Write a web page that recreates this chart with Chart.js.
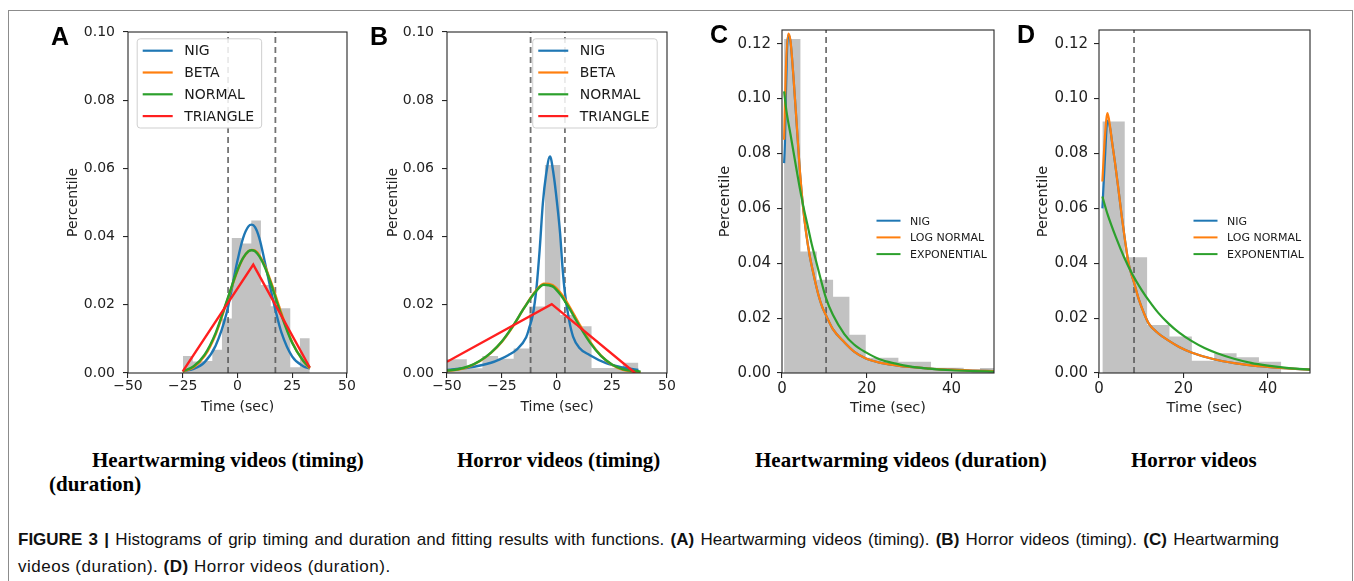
<!DOCTYPE html>
<html>
<head>
<meta charset="utf-8">
<title>Figure 3 - grip timing and duration histograms</title>
<script src="https://cdn.jsdelivr.net/npm/chart.js@4.4.1/dist/chart.umd.min.js"></script>
<style>
  html, body { margin: 0; padding: 0; background: #fff; }
  body { width: 1354px; height: 581px; position: relative; overflow: hidden; }
  .frame { position: absolute; left: 8px; top: 10px; width: 1343px; height: 640px; border: 1px solid #8c8c8c; }
  .panel { position: absolute; }
  .panel canvas { display: block; }
  .letter { position: absolute; font: bold 25px "Liberation Sans", Arial, sans-serif; line-height: 25px; color: #000; }
  .sub { position: absolute; font: bold 21px "Liberation Serif", "Times New Roman", serif; white-space: nowrap; line-height: 24px; color: #000; }
  .caption { position: absolute; left: 18px; top: 526px; font: 17px "Liberation Sans", Arial, sans-serif; line-height: 27px; color: #111; }
  .caption .l1 { width: 1261px; white-space: nowrap; text-align: justify; text-align-last: justify; }
  .caption .l2 { white-space: nowrap; letter-spacing: 0.5px; }
  .caption b { font-weight: bold; }
</style>
</head>
<body>
<div class="frame"></div>

<div class="panel" style="left:65px;top:20px;"><canvas id="chartA" width="300" height="396"></canvas></div>
<div class="panel" style="left:385px;top:20px;"><canvas id="chartB" width="300" height="396"></canvas></div>
<div class="panel" style="left:717px;top:20px;"><canvas id="chartC" width="282" height="397"></canvas></div>
<div class="panel" style="left:1035px;top:20px;"><canvas id="chartD" width="280" height="397"></canvas></div>

<div class="letter" style="left:51px;top:24px;">A</div>
<div class="letter" style="left:370px;top:24px;">B</div>
<div class="letter" style="left:710px;top:22px;">C</div>
<div class="letter" style="left:1017px;top:22px;">D</div>

<div class="sub" style="left:92px;top:448px;">Heartwarming videos (timing)</div>
<div class="sub" style="left:49px;top:472px;">(duration)</div>
<div class="sub" style="left:457px;top:448px;">Horror videos (timing)</div>
<div class="sub" style="left:755px;top:448px;">Heartwarming videos (duration)</div>
<div class="sub" style="left:1131px;top:448px;">Horror videos</div>

<div class="caption">
  <div class="l1"><b>FIGURE 3 |</b> Histograms of grip timing and duration and fitting results with functions. <b>(A)</b> Heartwarming videos (timing). <b>(B)</b> Horror videos (timing). <b>(C)</b> Heartwarming</div>
  <div class="l2">videos (duration). <b>(D)</b> Horror videos (duration).</div>
</div>

<script>
// ---- axis ticks ----
const timingTicksX = [-50, -25, 0, 25, 50];
const timingTicksY = [0, 0.02, 0.04, 0.06, 0.08, 0.10];
const durationTicksX = [0, 20, 40];
const durationTicksY = [0, 0.02, 0.04, 0.06, 0.08, 0.10, 0.12];

// ---- A: heartwarming videos, timing ----
const aEdges = [-24.9, -20.4, -16.0, -11.5, -7.1, -2.6, 1.8, 6.3, 10.7, 15.2, 19.6, 24.1, 28.5, 33.0];
const aHist = [0.0050, 0.0034, 0.0035, 0.0068, 0.0160, 0.0396, 0.0380, 0.0447, 0.0258, 0.0196, 0.0190, 0.0017, 0.0102];
const aCurveX = [-25, -20, -15, -10, -5, 0, 2.5, 5, 6.5, 8, 10, 12.5, 15, 17.5, 20, 25, 30, 33];
const aNig = [0.0005, 0.0012, 0.0032, 0.0080, 0.0175, 0.0330, 0.0395, 0.0430, 0.0435, 0.0428, 0.0395, 0.0325, 0.0250, 0.0180, 0.0120, 0.0048, 0.0020, 0.0013];
const aBeta = [0.0004, 0.0017, 0.0050, 0.0113, 0.0206, 0.0300, 0.0336, 0.0357, 0.0361, 0.0359, 0.0345, 0.0314, 0.0272, 0.0225, 0.0176, 0.0090, 0.0035, 0.0013];
const aNormal = [0.0005, 0.0020, 0.0054, 0.0117, 0.0209, 0.0302, 0.0337, 0.0357, 0.0360, 0.0357, 0.0342, 0.0310, 0.0267, 0.0218, 0.0170, 0.0088, 0.0036, 0.0016];
const aTriX = [-25, 7.2, 33];
const aTri = [0.0005, 0.0318, 0.0016];
const aMarks = [-4.3, 17.3];

// ---- B: horror videos, timing ----
const bEdges = [-55.2, -48.1, -41.0, -33.9, -26.8, -19.7, -12.6, -5.5, 1.5, 8.6, 15.7, 22.8, 29.9, 37.0];
const bHist = [0.0040, 0.0040, 0.0014, 0.0050, 0.0042, 0.0072, 0.0195, 0.0610, 0.0170, 0.0137, 0.0015, 0.0015, 0.0030];
const bNigX = [-50, -40, -30, -26, -22, -18.5, -14, -12.5, -11, -9.4, -7.9, -6.4, -5, -3.2, -1.5, 0, 1.4, 2.5, 3.6, 5.5, 7.3, 10, 14.8, 22.3, 30, 37];
const bNig = [0.0009, 0.0016, 0.0030, 0.0040, 0.0053, 0.0068, 0.0105, 0.0135, 0.0170, 0.0245, 0.0360, 0.0500, 0.0580, 0.0635, 0.0580, 0.0500, 0.0410, 0.0310, 0.0235, 0.0155, 0.0107, 0.0075, 0.0053, 0.0029, 0.0016, 0.0009];
const bCurveX = [-50, -45, -40, -35, -30, -25, -20, -15, -10, -6, -2, 2, 5, 10, 15, 20, 25, 30, 38];
const bBeta = [0.0006, 0.0010, 0.0019, 0.0035, 0.0059, 0.0092, 0.0137, 0.0190, 0.0238, 0.0262, 0.0258, 0.0232, 0.0202, 0.0145, 0.0092, 0.0051, 0.0024, 0.0009, 0.0002];
const bNormal = [0.0007, 0.0011, 0.0020, 0.0036, 0.0060, 0.0093, 0.0138, 0.0190, 0.0236, 0.0259, 0.0254, 0.0226, 0.0196, 0.0140, 0.0089, 0.0050, 0.0025, 0.0011, 0.0004];
const bTriX = [-50, -2.4, 35.5];
const bTri = [0.0033, 0.0202, 0.0];
const bMarks = [-12.0, 3.6];

// ---- C: heartwarming videos, duration ----
const cEdges = [0.5, 4.35, 8.2, 12.05, 15.9, 19.75, 23.6, 27.45, 31.3, 35.15, 39.0, 42.85, 46.7, 50.55];
const cHist = [0.1217, 0.0443, 0.0340, 0.0278, 0.0139, 0.0056, 0.0056, 0.0041, 0.0041, 0.0019, 0.0019, 0.0010, 0.0018];
const cNigX = [0.5, 0.7, 0.9, 1.2, 1.5, 2.0, 2.7, 3.5, 4.2, 5.0, 5.7, 6.5, 7.3, 8.5, 9.5, 10.4, 12, 14.7, 17, 19.8, 23, 26.9, 30, 34.7, 40, 45, 50];
const cNig = [0.0765, 0.0840, 0.1000, 0.1180, 0.1232, 0.1208, 0.1078, 0.0898, 0.0738, 0.0600, 0.0510, 0.0430, 0.0370, 0.0290, 0.0240, 0.0210, 0.0160, 0.0112, 0.0078, 0.0053, 0.0038, 0.0028, 0.0022, 0.0016, 0.0012, 0.0009, 0.0007];
const cLogX = [0.5, 0.9, 1.5, 2.0, 2.7, 3.5, 4.2, 5.0, 5.7, 6.5, 7.3, 8.5, 9.5, 10.4, 12, 14.7, 17, 19.8, 23, 26.9, 30, 34.7, 40, 45, 50];
const cLog = [0.0850, 0.1100, 0.1237, 0.1210, 0.1080, 0.0900, 0.0740, 0.0600, 0.0510, 0.0430, 0.0370, 0.0290, 0.0240, 0.0210, 0.0160, 0.0112, 0.0078, 0.0053, 0.0038, 0.0028, 0.0022, 0.0016, 0.0012, 0.0009, 0.0007];
const cExpX = [0.5, 1, 2, 3, 4, 5, 6, 7, 8, 9, 10.4, 12, 14.7, 17, 19.8, 23, 26.9, 30, 34.7, 40, 45, 50];
const cExp = [0.1026, 0.0960, 0.0870, 0.0780, 0.0690, 0.0610, 0.0540, 0.0470, 0.0410, 0.0350, 0.0272, 0.0212, 0.0142, 0.0104, 0.0075, 0.0050, 0.0034, 0.0024, 0.0016, 0.0010, 0.0007, 0.0005];
const cMarks = [10.4];

// ---- D: horror videos, duration ----
const dEdges = [0.8, 6.1, 11.4, 16.7, 22.0, 27.3, 32.6, 37.9, 43.2];
const dHist = [0.0917, 0.0422, 0.0175, 0.0133, 0.0045, 0.0072, 0.0057, 0.0041];
const dNigX = [0.8, 1.4, 2.0, 2.6, 3.2, 3.8, 4.6, 5.4, 6.2, 7.0, 8.3, 9.4, 10.6, 11.8, 14, 16.5, 19, 21.9, 26.8, 32.4, 37.9, 42.7, 50];
const dNig = [0.0600, 0.0780, 0.0920, 0.0895, 0.0830, 0.0766, 0.0670, 0.0570, 0.0480, 0.0400, 0.0330, 0.0270, 0.0220, 0.0180, 0.0145, 0.0118, 0.0095, 0.0075, 0.0052, 0.0035, 0.0025, 0.0019, 0.0012];
const dLogX = [0.8, 1.4, 2.0, 2.6, 3.2, 3.8, 4.6, 5.4, 6.2, 7.0, 8.3, 9.4, 10.6, 11.8, 14, 16.5, 19, 21.9, 26.8, 32.4, 37.9, 42.7, 50];
const dLog = [0.0698, 0.0860, 0.0947, 0.0900, 0.0830, 0.0766, 0.0670, 0.0570, 0.0480, 0.0400, 0.0330, 0.0270, 0.0220, 0.0180, 0.0145, 0.0118, 0.0095, 0.0075, 0.0052, 0.0035, 0.0025, 0.0019, 0.0012];
const dExpX = [0.8, 2, 4, 6, 8, 10, 12, 14, 16.5, 19, 22, 25, 28, 32, 36, 40, 45, 50];
const dExp = [0.0643, 0.0580, 0.0495, 0.0420, 0.0357, 0.0305, 0.0260, 0.0220, 0.0180, 0.0147, 0.0116, 0.0091, 0.0072, 0.0052, 0.0037, 0.0027, 0.0018, 0.0012];
const dMarks = [8.3];

const BLUE = '#1f77b4', ORANGE = '#ff7f0e', GREEN = '#2ca02c', RED = '#ff1f1f';
const FONT = '"DejaVu Sans", Verdana, sans-serif';

// pair up x and y lists into point objects
function xy(xs, ys) {
    return xs.map((x, i) => ({ x: x, y: ys[i] }));
}

// histogram outline as a stepped polygon along the bin edges
function histPoints(edges, heights) {
    const pts = [{ x: edges[0], y: 0 }];
    heights.forEach((h, i) => pts.push({ x: edges[i], y: h }));
    pts.push({ x: edges[edges.length - 1], y: 0 });
    return pts;
}

function histSet(edges, heights) {
    return {
        data: histPoints(edges, heights),
        stepped: 'before',
        fill: 'origin',
        backgroundColor: '#c2c2c2',
        borderColor: 'rgba(0,0,0,0)',
        borderWidth: 1,
        pointRadius: 0,
        order: 20
    };
}

function markSets(marks, top) {
    return marks.map(m => ({
        data: [{ x: m, y: 0 }, { x: m, y: top }],
        borderColor: 'rgba(80,80,80,0.8)',
        borderWidth: 1.8,
        borderDash: [6, 4],
        pointRadius: 0,
        order: 15
    }));
}

function curveSet(label, pts, color, width, order, smooth) {
    return {
        label: label,
        data: pts,
        borderColor: color,
        borderWidth: width,
        pointRadius: 0,
        fill: false,
        cubicInterpolationMode: smooth ? 'monotone' : 'default',
        tension: 0,
        order: order
    };
}

// full box around the plotting area, like matplotlib spines
const axesFrame = {
    id: 'axesFrame',
    afterDraw(chart) {
        const { ctx, chartArea: a } = chart;
        ctx.save();
        ctx.strokeStyle = '#262626';
        ctx.lineWidth = 1.1;
        ctx.strokeRect(a.left, a.top, a.right - a.left, a.bottom - a.top);
        ctx.restore();
    }
};

// legend drawn inside the axes
const insetLegend = {
    id: 'insetLegend',
    afterDatasetsDraw(chart, args, opts) {
        if (!opts || !opts.rowH) return;
        const { ctx, chartArea: a } = chart;
        const items = chart.data.datasets.filter(d => d.label);
        ctx.save();
        ctx.font = opts.fontSize + 'px ' + FONT;
        const textW = Math.max.apply(null, items.map(d => ctx.measureText(d.label).width));
        const w = opts.textX + textW + opts.padR;
        const x0 = opts.right != null ? a.right - opts.right - w : a.left + opts.left;
        const y0 = a.top + opts.top;
        if (opts.box) {
            const h = opts.firstRow * 2 + opts.rowH * (items.length - 1) - 1;
            ctx.beginPath();
            ctx.roundRect(x0 + 0.5, y0 + 0.5, w, h, 3);
            ctx.fillStyle = 'rgba(255,255,255,0.85)';
            ctx.fill();
            ctx.strokeStyle = '#cfcfcf';
            ctx.lineWidth = 1;
            ctx.stroke();
        }
        items.forEach((d, i) => {
            const y = y0 + opts.firstRow + i * opts.rowH;
            ctx.beginPath();
            ctx.moveTo(x0 + opts.lineX, y);
            ctx.lineTo(x0 + opts.lineX + opts.lineLen, y);
            ctx.strokeStyle = d.borderColor;
            ctx.lineWidth = opts.lineW;
            ctx.stroke();
            ctx.fillStyle = '#1a1a1a';
            ctx.textBaseline = 'middle';
            ctx.textAlign = 'left';
            ctx.fillText(d.label, x0 + opts.textX, y + 1);
        });
        ctx.restore();
    }
};

function fmtX(v) {
    return String(Math.round(v)).replace('-', '\u2212');
}

// keep the plot box exactly where the axis sizes put it
function noEdgePadding(s) {
    s.paddingTop = 0;
    s.paddingBottom = 0;
    s.paddingLeft = 0;
    s.paddingRight = 0;
}

function makeChart(canvasId, spec) {
    const ctx = document.getElementById(canvasId).getContext('2d');
    return new Chart(ctx, {
        type: 'line',
        data: { datasets: spec.datasets },
        options: {
            responsive: false,
            animation: false,
            events: [],
            layout: { padding: { top: spec.padTop, right: spec.padRight, left: 0, bottom: 0 } },
            plugins: {
                legend: { display: false },
                tooltip: { enabled: false },
                insetLegend: spec.legend
            },
            scales: {
                x: {
                    type: 'linear',
                    min: spec.xMin,
                    max: spec.xMax,
                    afterBuildTicks: s => { s.ticks = spec.xTicks.map(v => ({ value: v })); },
                    afterFit: s => { s.height = spec.xH; noEdgePadding(s); },
                    border: { display: false },
                    grid: { drawOnChartArea: false, drawTicks: true, tickLength: 5, color: '#262626', lineWidth: 1.1 },
                    ticks: {
                        autoSkip: false, maxRotation: 0, padding: spec.xPad,
                        color: '#222', font: { family: FONT, size: spec.tickSize },
                        callback: v => fmtX(v)
                    },
                    title: {
                        display: true, text: 'Time (sec)', color: '#222',
                        padding: { top: 0, bottom: 0 },
                        font: { family: FONT, size: spec.titleSize }
                    }
                },
                y: {
                    type: 'linear',
                    min: 0,
                    max: spec.yMax,
                    afterBuildTicks: s => { s.ticks = spec.yTicks.map(v => ({ value: v })); },
                    afterFit: s => { s.width = spec.yW; noEdgePadding(s); },
                    border: { display: false },
                    grid: { drawOnChartArea: false, drawTicks: true, tickLength: 5, color: '#262626', lineWidth: 1.1 },
                    ticks: {
                        autoSkip: false, padding: spec.yPad,
                        color: '#222', font: { family: FONT, size: spec.tickSize },
                        callback: v => v.toFixed(2)
                    },
                    title: {
                        display: true, text: 'Percentile', color: '#222',
                        padding: { top: 0, bottom: 0 },
                        font: { family: FONT, size: spec.titleSize }
                    }
                }
            }
        },
        plugins: [axesFrame, insetLegend]
    });
}

const boxedLegend = { box: true, top: 6.3, firstRow: 12.4, rowH: 21.8, lineX: 6, lineLen: 30, lineW: 2.2, textX: 47.5, padR: 7, fontSize: 14 };
const plainLegend = { box: false, left: 94.5, top: 180, firstRow: 10.7, rowH: 16.7, lineX: 0, lineLen: 24, lineW: 2, textX: 33.5, padR: 0, fontSize: 11 };

function init() {
    if (typeof Chart === 'undefined') {
        setTimeout(init, 100);
        return;
    }

    makeChart('chartA', {
        padTop: 12, padRight: 18, yW: 63, xH: 43, xMin: -50, xMax: 50, yMax: 0.10,
        xTicks: timingTicksX, yTicks: timingTicksY, tickSize: 14, titleSize: 14, xPad: 0, yPad: 8,
        legend: Object.assign({ left: 8.7 }, boxedLegend),
        datasets: [
            curveSet('NIG', xy(aCurveX, aNig), BLUE, 2.4, 4, true),
            curveSet('BETA', xy(aCurveX, aBeta), ORANGE, 2.4, 3, true),
            curveSet('NORMAL', xy(aCurveX, aNormal), GREEN, 2.4, 2, true),
            curveSet('TRIANGLE', xy(aTriX, aTri), RED, 2.4, 1, false),
            histSet(aEdges, aHist)
        ].concat(markSets(aMarks, 0.10))
    });

    makeChart('chartB', {
        padTop: 12, padRight: 18, yW: 62, xH: 43, xMin: -50, xMax: 50, yMax: 0.10,
        xTicks: timingTicksX, yTicks: timingTicksY, tickSize: 14, titleSize: 14, xPad: 0, yPad: 8,
        legend: Object.assign({ right: 10.3 }, boxedLegend),
        datasets: [
            curveSet('NIG', xy(bNigX, bNig), BLUE, 2.4, 4, true),
            curveSet('BETA', xy(bCurveX, bBeta), ORANGE, 2.4, 3, true),
            curveSet('NORMAL', xy(bCurveX, bNormal), GREEN, 2.4, 2, true),
            curveSet('TRIANGLE', xy(bTriX, bTri), RED, 2.4, 1, false),
            histSet(bEdges, bHist)
        ].concat(markSets(bMarks, 0.10))
    });

    makeChart('chartC', {
        padTop: 10, padRight: 5, yW: 65, xH: 44, xMin: 0, xMax: 50, yMax: 0.125,
        xTicks: durationTicksX, yTicks: durationTicksY, tickSize: 15, titleSize: 14.5, xPad: 2, yPad: 6,
        legend: plainLegend,
        datasets: [
            curveSet('NIG', xy(cNigX, cNig), BLUE, 2.2, 3, true),
            curveSet('LOG NORMAL', xy(cLogX, cLog), ORANGE, 2.2, 2, true),
            curveSet('EXPONENTIAL', xy(cExpX, cExp), GREEN, 2.2, 1, true),
            histSet(cEdges, cHist)
        ].concat(markSets(cMarks, 0.125))
    });

    makeChart('chartD', {
        padTop: 10, padRight: 5, yW: 64, xH: 44, xMin: 0, xMax: 50, yMax: 0.125,
        xTicks: durationTicksX, yTicks: durationTicksY, tickSize: 15, titleSize: 14.5, xPad: 2, yPad: 6,
        legend: plainLegend,
        datasets: [
            curveSet('NIG', xy(dNigX, dNig), BLUE, 2.2, 3, true),
            curveSet('LOG NORMAL', xy(dLogX, dLog), ORANGE, 2.2, 2, true),
            curveSet('EXPONENTIAL', xy(dExpX, dExp), GREEN, 2.2, 1, true),
            histSet(dEdges, dHist)
        ].concat(markSets(dMarks, 0.125))
    });
}

if (document.readyState === 'loading') {
    document.addEventListener('DOMContentLoaded', init);
} else {
    init();
}
</script>
</body>
</html>
